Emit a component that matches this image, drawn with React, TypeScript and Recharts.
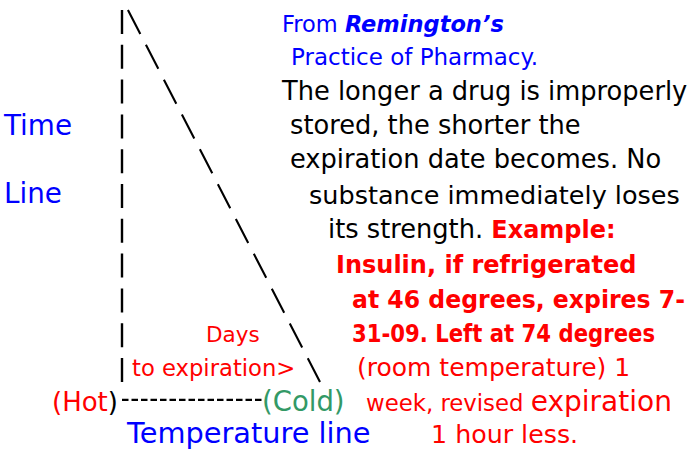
import React from "react";
import { Customized, Line, LineChart, XAxis, YAxis } from "recharts";

// temperature: 0 = hot, 10 = cold; time: 10 = top of the time line
const timeLine = [
  { temp: 0, time: 10 },
  { temp: 0, time: 0 },
];
const expiryLine = [
  { temp: 0.3, time: 10 },
  { temp: 10, time: 0 },
];
const temperatureLine = [
  { temp: 0, time: -0.48 },
  { temp: 7.15, time: -0.48 },
];

const BLUE = "#0000ff";
const RED = "#ff0000";
const GREEN = "#339966";
const FONT = "'DejaVu Sans', Verdana, sans-serif";

// note text, one entry per line: [x, baseline, parts, width?]
type Part = { text: string; color: string; size: number; bold?: boolean; italic?: boolean };
type TextLine = [number, number, Part[], number?];

const noteLines: TextLine[] = [
  [282, 32, [
    { text: "From ", color: BLUE, size: 22.5 },
    { text: "Remington’s", color: BLUE, size: 22.5, bold: true, italic: true },
  ]],
  [291, 65, [{ text: "Practice of Pharmacy.", color: BLUE, size: 23 }]],
  [282, 100, [{ text: "The longer a drug is improperly", color: "#000", size: 25.7 }]],
  [290, 134, [{ text: "stored, the shorter the", color: "#000", size: 25.7 }]],
  [290, 168, [{ text: "expiration date becomes. No", color: "#000", size: 25.7 }]],
  [309, 204, [{ text: "substance immediately loses", color: "#000", size: 25.5 }]],
  [328, 238, [
    { text: "its strength. ", color: "#000", size: 25.7 },
    { text: "Example:", color: RED, size: 24, bold: true },
  ]],
  [336, 273, [{ text: "Insulin, if refrigerated", color: RED, size: 24, bold: true }]],
  [352, 308, [{ text: "at 46 degrees, expires 7-", color: RED, size: 24, bold: true }], 333],
  [352, 342, [{ text: "31-09. Left at 74 degrees", color: RED, size: 24, bold: true }], 303],
  [357, 376, [{ text: "(room temperature) 1", color: RED, size: 25 }]],
  [366, 411, [
    { text: "week, revised ", color: RED, size: 22.8 },
    { text: "expiration", color: RED, size: 28 },
  ]],
  [431, 443, [{ text: "1 hour less.", color: RED, size: 25.3 }]],
];

const axisLabels: TextLine[] = [
  [4, 135, [{ text: "Time", color: BLUE, size: 27.8 }]],
  [4, 203, [{ text: "Line", color: BLUE, size: 27.8 }]],
  [206, 342, [{ text: "Days", color: RED, size: 21.5 }]],
  [132, 376, [{ text: "to expiration>", color: RED, size: 22.7 }]],
  [52, 411, [
    { text: "(Hot", color: RED, size: 26 },
    { text: ")", color: "#000", size: 26 },
  ]],
  [262, 411, [{ text: "(Cold)", color: GREEN, size: 27.5 }]],
  [127, 443, [{ text: "Temperature line", color: BLUE, size: 28.8 }]],
];

function TextLines() {
  const all = [...noteLines, ...axisLabels];
  return (
    <g fontFamily={FONT}>
      {all.map(([x, y, parts, width], i) => (
        <text
          key={i}
          x={x}
          y={y}
          textAnchor="start"
          textLength={width}
          lengthAdjust={width ? "spacingAndGlyphs" : undefined}
        >
          {parts.map((p, j) => (
            <tspan
              key={j}
              fill={p.color}
              fontSize={p.size}
              fontWeight={p.bold ? "bold" : "normal"}
              fontStyle={p.italic ? "italic" : "normal"}
              style={{ whiteSpace: "pre" }}
            >
              {p.text}
            </tspan>
          ))}
        </text>
      ))}
    </g>
  );
}

export default function App() {
  return (
    <div style={{ position: "absolute", left: 0, top: 0, width: 695, height: 450, background: "#fff" }}>
      <LineChart width={695} height={450} margin={{ top: 10, right: 375, bottom: 12.2, left: 122 }}>
        <XAxis type="number" dataKey="temp" domain={[0, 10]} hide />
        <YAxis type="number" dataKey="time" domain={[-1.5, 10]} hide />
        <Line
          data={timeLine}
          dataKey="time"
          stroke="#000"
          strokeWidth={2.4}
          strokeDasharray="24 10.8"
          dot={false}
          isAnimationActive={false}
        />
        <Line
          data={expiryLine}
          dataKey="time"
          stroke="#000"
          strokeWidth={2.1}
          strokeDasharray="27 12.2"
          dot={false}
          isAnimationActive={false}
        />
        <Line
          data={temperatureLine}
          dataKey="time"
          stroke="#000"
          strokeWidth={2.2}
          strokeDasharray="6.5 3"
          dot={false}
          isAnimationActive={false}
        />
        <Customized component={<TextLines />} />
      </LineChart>
    </div>
  );
}
